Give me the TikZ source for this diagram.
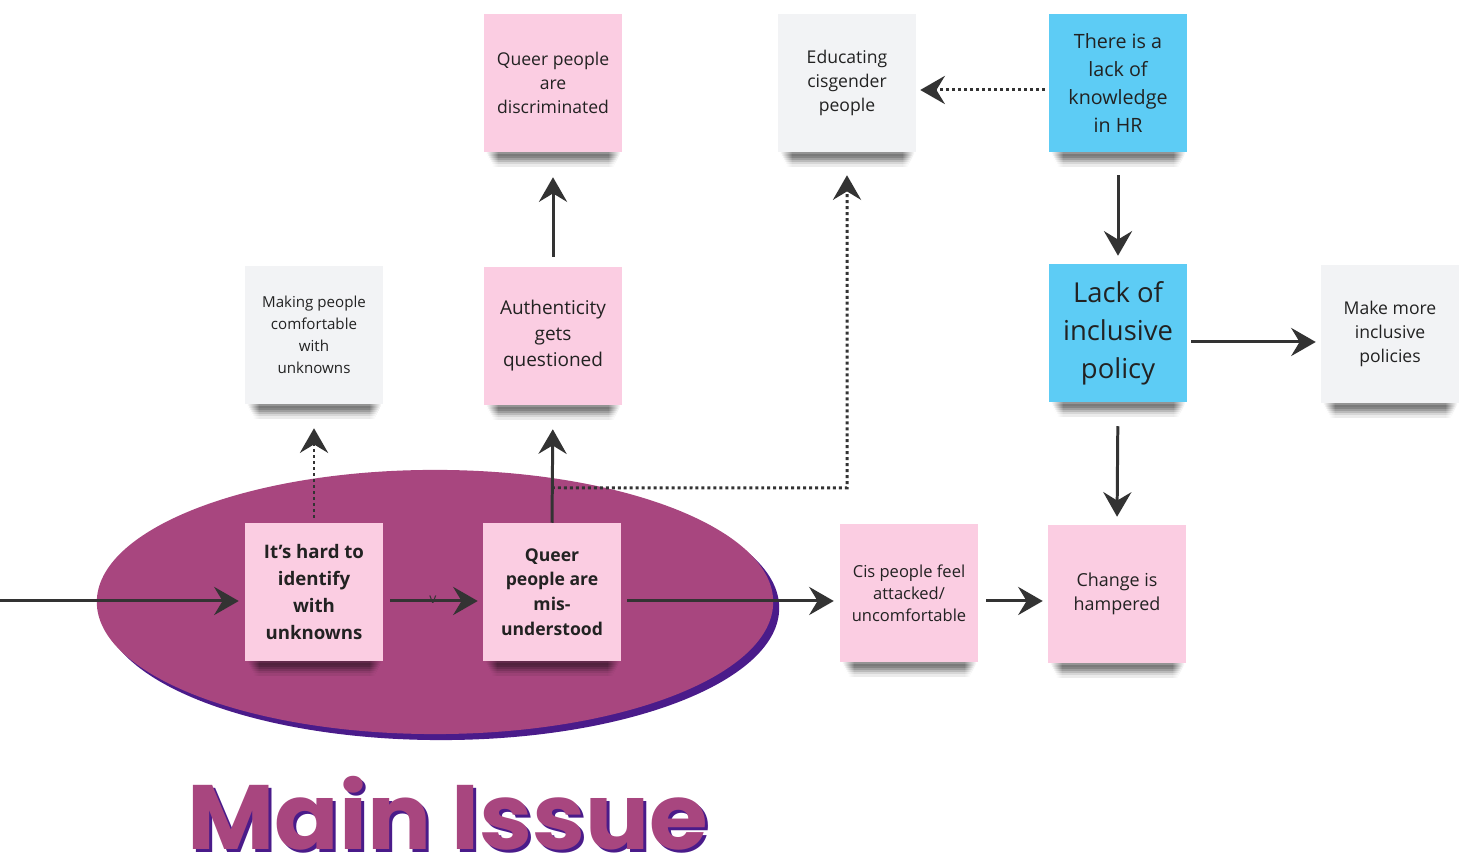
\documentclass[tikz,border=0pt]{standalone}
\usepackage{fontspec}
\setmainfont{Open Sans}
\newfontfamily\titlefont{Poppins}
\usetikzlibrary{arrows.meta,calc}

\definecolor{notepink}{HTML}{FBCDE2}
\definecolor{notegray}{HTML}{F2F3F5}
\definecolor{noteblue}{HTML}{5DCCF5}
\definecolor{blob}{HTML}{A8467F}
\definecolor{blobshade}{HTML}{4A1B8A}
\definecolor{inkdark}{HTML}{222222}
\definecolor{arrowdark}{HTML}{333333}

\pgfdeclarelayer{blobs}
\pgfdeclarelayer{shadows}
\pgfsetlayers{blobs,shadows,main}

\newcommand\fs[2]{\fontsize{#1}{#2}\selectfont}

% soft shadow under a sticky note: stacked strips that fade downwards,
% each with softened ends (#1 node, #2 shadow colour, #3 background)
\newcommand\dropshade[3]{%
  \begin{pgfonlayer}{shadows}
    \foreach \k/\p in {0/42,1/52,2/48,3/38,4/27,5/16,6/8} {
      \fill[#2!\p!#3]
        ($(#1.south west)+(14,2*\k)$) rectangle ($(#1.south east)+(-14,2*\k+2.4)$);
      \shade[left color=#3, right color=#2!\p!#3]
        ($(#1.south west)+(2+\k,2*\k)$) rectangle ($(#1.south west)+(14.2,2*\k+2.4)$);
      \shade[left color=#2!\p!#3, right color=#3]
        ($(#1.south east)+(-14.2,2*\k)$) rectangle ($(#1.south east)+(-2-\k,2*\k+2.4)$);
    }
  \end{pgfonlayer}}

\tikzset{
  note/.style={minimum width=1.37cm, minimum height=1.37cm, inner sep=0pt,
    align=center, text=inkdark},
  pinknote/.style={note, fill=notepink},
  graynote/.style={note, fill=notegray},
  bluenote/.style={note, fill=noteblue},
  flow/.style={draw=arrowdark, line width=0.85pt,
    -{Stealth[length=7pt, width=8pt, inset=2.4pt]}},
  dots/.style={flow, dash pattern=on 0.85pt off 0.85pt},
}

\begin{document}
\begin{tikzpicture}[x=0.01cm, y=-0.01cm]
\useasboundingbox (0,0) rectangle (1464,862);

% the main issue blob
\begin{pgfonlayer}{blobs}
  \fill[blobshade] (441,608) ellipse [x radius=3.38cm, y radius=1.32cm];
  \fill[blob] (435,602) ellipse [x radius=3.38cm, y radius=1.32cm];
\end{pgfonlayer}

% sticky notes
\node[pinknote, font=\fs{5.0}{6.8}] (discrim) at (553,83) {Queer people\\are\\discriminated};
\node[graynote, font=\fs{5.0}{6.8}] (educate) at (847,83) {Educating\\cisgender\\people};
\node[bluenote, font=\fs{5.6}{8}] (hrknow) at (1118,83) {There is a\\lack of\\knowledge\\in HR};
\node[graynote, font=\fs{4.3}{6.3}] (comfort) at (314,335) {Making people\\comfortable\\with\\unknowns};
\node[pinknote, font=\fs{5.4}{7.4}] (authentic) at (553,336) {Authenticity\\gets\\questioned};
\node[bluenote, font=\fs{7.8}{10.8}] (policy) at (1118,333) {Lack of\\inclusive\\policy};
\node[graynote, font=\fs{5.0}{6.8}] (makepol) at (1390,334) {Make more\\inclusive\\policies};
\node[pinknote, font=\bfseries\fs{5.3}{7.6}] (hardid) at (314,592) {It's hard to\\identify\\with\\unknowns};
\node[pinknote, font=\bfseries\fs{5.0}{7}] (misund) at (552,592) {Queer\\people are\\mis-\\understood};
\node[pinknote, font=\fs{4.7}{6.3}] (cisfeel) at (909,593) {Cis people feel\\attacked/\\uncomfortable};
\node[pinknote, font=\fs{5.1}{6.8}] (hampered) at (1117,594) {Change is\\hampered};

\dropshade{discrim}{black}{white}
\dropshade{educate}{black}{white}
\dropshade{hrknow}{black}{white}
\dropshade{comfort}{black}{white}
\dropshade{authentic}{black}{white}
\dropshade{policy}{black}{white}
\dropshade{makepol}{black}{white}
\dropshade{cisfeel}{black}{white}
\dropshade{hampered}{black}{white}
\dropshade{hardid}{black}{blob}
\dropshade{misund}{black}{blob}

% connectors
\coordinate (entry) at (0,601);
\coordinate (branch) at ($(misund.north)+(0,-35)$);
\coordinate (bend) at (847,488);

\draw[flow, shorten >=0.06cm] (entry) -- (hardid.west |- entry);
\draw[flow, shorten <=0.07cm, shorten >=0.05cm] (hardid.east |- entry) -- (misund.west |- entry)
  node[midway, font=\fs{4}{4}, text=arrowdark, inner sep=0pt, yshift=0.3pt] (tick) {v};
\draw[flow, shorten <=0.06cm, shorten >=0.06cm] (misund.east |- entry) -- (cisfeel.west |- entry);
\draw[flow, shorten <=0.08cm, shorten >=0.05cm] (cisfeel.east |- entry) -- (hampered.west |- entry);
\draw[flow, shorten >=0.24cm] (misund.north) -- (authentic.south);
\draw[flow, shorten <=0.1cm, shorten >=0.25cm] (authentic.north) -- (discrim.south);
\draw[dots, shorten <=0.05cm, shorten >=0.24cm] (hardid.north) -- (comfort.south);
\draw[dots, shorten >=0.23cm] (branch) -- (bend) -- (educate.south);
\draw[dots, shorten <=0.04cm, shorten >=0.04cm] (hrknow.west |- 0,90) -- (educate.east |- 0,90);
\draw[flow, shorten <=0.23cm, shorten >=0.08cm] (hrknow.south) -- (policy.north);
\draw[flow, shorten <=0.04cm, shorten >=0.05cm] (policy.east |- 0,342) -- (makepol.west |- 0,342);
\draw[flow, shorten <=0.24cm, shorten >=0.08cm] (policy.south) -- (hampered.north);

% title with offset shade
\node[text=blobshade, font=\titlefont\bfseries\fs{26}{26}, inner sep=0pt] (titleshade) at (451,816) {\scalebox{1.04}[1]{Main Issue}};
\node[text=blob, font=\titlefont\bfseries\fs{26}{26}, inner sep=0pt] (title) at (448,813) {\scalebox{1.04}[1]{Main Issue}};
\end{tikzpicture}
\end{document}
